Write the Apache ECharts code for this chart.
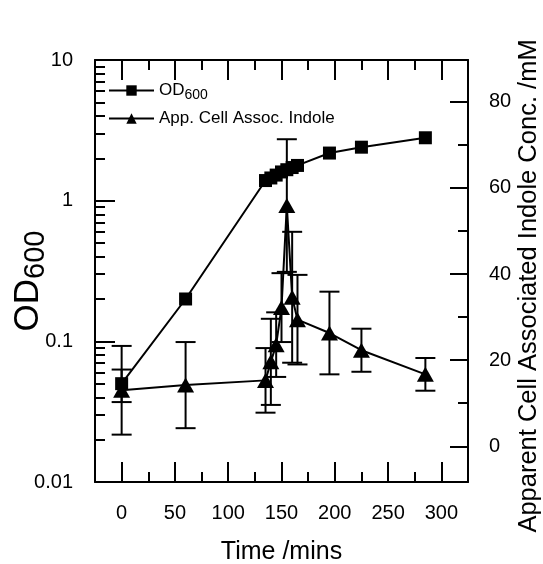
<!DOCTYPE html>
<html><head><meta charset="utf-8">
<script src="https://cdn.jsdelivr.net/npm/echarts@6/dist/echarts.min.js"></script>
<style>html,body{margin:0;padding:0;background:#fff}#c{width:543px;height:564px}</style>
</head><body><div id="c"></div>
<script>
// ---- data ----
const time = [0, 60, 135, 140, 145, 150, 155, 160, 165, 195, 225, 285];
const od600 = [0.05, 0.20, 1.39, 1.45, 1.52, 1.60, 1.66, 1.72, 1.78, 2.18, 2.40, 2.80];
const od600Err = [0.013, 0, 0, 0, 0, 0, 0, 0, 0, 0, 0, 0];
const indole = [13.0, 14.2, 15.3, 19.6, 23.6, 32.2, 55.9, 34.6, 29.4, 26.3, 22.3, 16.7];
const indoleErr = [10.3, 10.0, 7.5, 10.0, 7.5, 8.0, 15.4, 15.2, 10.4, 9.6, 5.0, 3.8];
// ---- tick labels ----
const xTickLabels = [0, 50, 100, 150, 200, 250, 300];
const xMinorTicks = [25, 75, 125, 175, 225, 275];
const yLeftDecades = [-2, -1, 0];
const yLeftMinorMantissas = [2, 3, 4, 5, 6, 7, 8, 9];
const yRightTickLabels = [0, 20, 40, 60, 80];
const yRightMinorTicks = [10, 30, 50, 70];

const BLACK = '#000';
const FONT = 'Liberation Sans';
const tickStyle = {color: BLACK, width: 2};
const logMinor = [];
yLeftDecades.forEach(d => yLeftMinorMantissas.forEach(m => logMinor.push(d + Math.log10(m))));

function errRender(params, api) {
  const t = api.value(0), lo = api.value(1), hi = api.value(2);
  const p1 = api.coord([t, hi]);
  const p2 = api.coord([t, lo]);
  const w = 10;
  const style = {stroke: BLACK, lineWidth: 2, fill: null};
  return {type: 'group', children: [
    {type: 'line', shape: {x1: p1[0], y1: p1[1], x2: p2[0], y2: p2[1]}, style: style},
    {type: 'line', shape: {x1: p1[0] - w, y1: p1[1], x2: p1[0] + w, y2: p1[1]}, style: style},
    {type: 'line', shape: {x1: p2[0] - w, y1: p2[1], x2: p2[0] + w, y2: p2[1]}, style: style}
  ]};
}
const odErrData = [], indErrData = [];
time.forEach((t, i) => {
  if (od600Err[i] > 0) odErrData.push([t, od600[i] - od600Err[i], od600[i] + od600Err[i]]);
  if (indoleErr[i] > 0) indErrData.push([t, indole[i] - indoleErr[i], indole[i] + indoleErr[i]]);
});

const chart = echarts.init(document.getElementById('c'), null, {renderer: 'canvas'});
const xBase = {type: 'value', min: -25, max: 325, splitLine: {show: false}};
const option = {
  animation: false,
  backgroundColor: '#fff',
  textStyle: {fontFamily: FONT, color: BLACK},
  grid: {left: 95, right: 75, top: 60, bottom: 82, containLabel: false, outerBoundsMode: 'none'},
  legend: {
    left: 103, top: 77, orient: 'vertical', itemWidth: 45, itemHeight: 13, itemGap: 8,
    data: ['OD600', 'App. Cell Assoc. Indole'],
    formatter: n => n === 'OD600' ? '{a|OD}{b|600}' : n,
    textStyle: {fontSize: 17, color: BLACK, fontFamily: FONT,
      rich: {a: {fontSize: 17, fontFamily: FONT, color: BLACK}, b: {fontSize: 14, fontFamily: FONT, color: BLACK, padding: [9, 0, 0, 0]}}}
  },
  xAxis: [
    Object.assign({}, xBase, {position: 'bottom',
      axisLine: {show: true, onZero: false, lineStyle: tickStyle},
      axisTick: {inside: true, length: 20, customValues: xTickLabels, lineStyle: tickStyle},
      axisLabel: {customValues: xTickLabels, fontSize: 20, color: BLACK, margin: 21, fontFamily: FONT},
      name: 'Time /mins', nameLocation: 'middle', nameGap: 58, nameMoveOverlap: false,
      nameTextStyle: {fontSize: 25, color: BLACK, fontFamily: FONT}}),
    Object.assign({}, xBase, {position: 'top',
      axisLine: {show: true, onZero: false, lineStyle: tickStyle},
      axisTick: {inside: true, length: 20, customValues: xTickLabels, lineStyle: tickStyle},
      axisLabel: {show: false}}),
    Object.assign({}, xBase, {position: 'bottom',
      axisLine: {show: false, onZero: false},
      axisTick: {inside: true, length: 10, customValues: xMinorTicks, lineStyle: tickStyle},
      axisLabel: {show: false}}),
    Object.assign({}, xBase, {position: 'top',
      axisLine: {show: false, onZero: false},
      axisTick: {inside: true, length: 10, customValues: xMinorTicks, lineStyle: tickStyle},
      axisLabel: {show: false}})
  ],
  yAxis: [
    {type: 'log', logBase: 10, min: 0.01, max: 10, position: 'left',
      splitLine: {show: false},
      axisLine: {show: true, onZero: false, lineStyle: tickStyle},
      axisTick: {inside: true, length: 20, lineStyle: tickStyle},
      axisLabel: {fontSize: 20, color: BLACK, margin: 22, fontFamily: FONT, formatter: v => String(v)},
      name: '{a|OD}{b|600}', nameLocation: 'middle', nameGap: 45, nameRotate: 90, nameMoveOverlap: false,
      nameTextStyle: {color: BLACK, fontFamily: FONT, padding: [0, 20, 0, 0],
        rich: {a: {fontSize: 35, fontFamily: FONT, color: BLACK}, b: {fontSize: 29, fontFamily: FONT, color: BLACK, padding: [14, 0, 0, 0]}}}},
    {type: 'value', min: -8.3, max: 89.7, position: 'right',
      splitLine: {show: false},
      axisLine: {show: true, onZero: false, lineStyle: tickStyle},
      axisTick: {inside: true, length: 18, customValues: yRightTickLabels, lineStyle: tickStyle},
      axisLabel: {customValues: yRightTickLabels, fontSize: 20, color: BLACK, margin: 21, fontFamily: FONT},
      name: 'Apparent Cell Associated Indole Conc. /mM', nameLocation: 'middle', nameGap: 48, nameRotate: 90,
      nameMoveOverlap: false,
      nameTextStyle: {fontSize: 25.5, color: BLACK, fontFamily: FONT, padding: [0, 30, 0, 0]}},
    {type: 'value', min: -2, max: 1, position: 'left',
      splitLine: {show: false}, axisLine: {show: false, onZero: false},
      axisTick: {inside: true, length: 10, customValues: logMinor, lineStyle: tickStyle},
      axisLabel: {show: false}},
    {type: 'value', min: -8.3, max: 89.7, position: 'right',
      splitLine: {show: false}, axisLine: {show: false, onZero: false},
      axisTick: {inside: true, length: 10, customValues: yRightMinorTicks, lineStyle: tickStyle},
      axisLabel: {show: false}}
  ],
  series: [
    {type: 'custom', name: 'odErr', xAxisIndex: 0, yAxisIndex: 0, renderItem: errRender,
      encode: {x: 0, y: [1, 2]}, data: odErrData, z: 1},
    {type: 'custom', name: 'indErr', xAxisIndex: 0, yAxisIndex: 1, renderItem: errRender,
      encode: {x: 0, y: [1, 2]}, data: indErrData, z: 1},
    {type: 'line', name: 'OD600', xAxisIndex: 0, yAxisIndex: 0,
      data: time.map((t, i) => [t, od600[i]]),
      symbol: 'rect', symbolSize: 13, showAllSymbol: true,
      lineStyle: {color: BLACK, width: 2}, itemStyle: {color: BLACK}, z: 3},
    {type: 'line', name: 'App. Cell Assoc. Indole', xAxisIndex: 0, yAxisIndex: 1,
      data: time.map((t, i) => [t, indole[i]]),
      symbol: 'triangle', symbolSize: [17, 15], showAllSymbol: true,
      lineStyle: {color: BLACK, width: 2}, itemStyle: {color: BLACK}, z: 4}
  ]
};
chart.setOption(option);
</script>
</body></html>
